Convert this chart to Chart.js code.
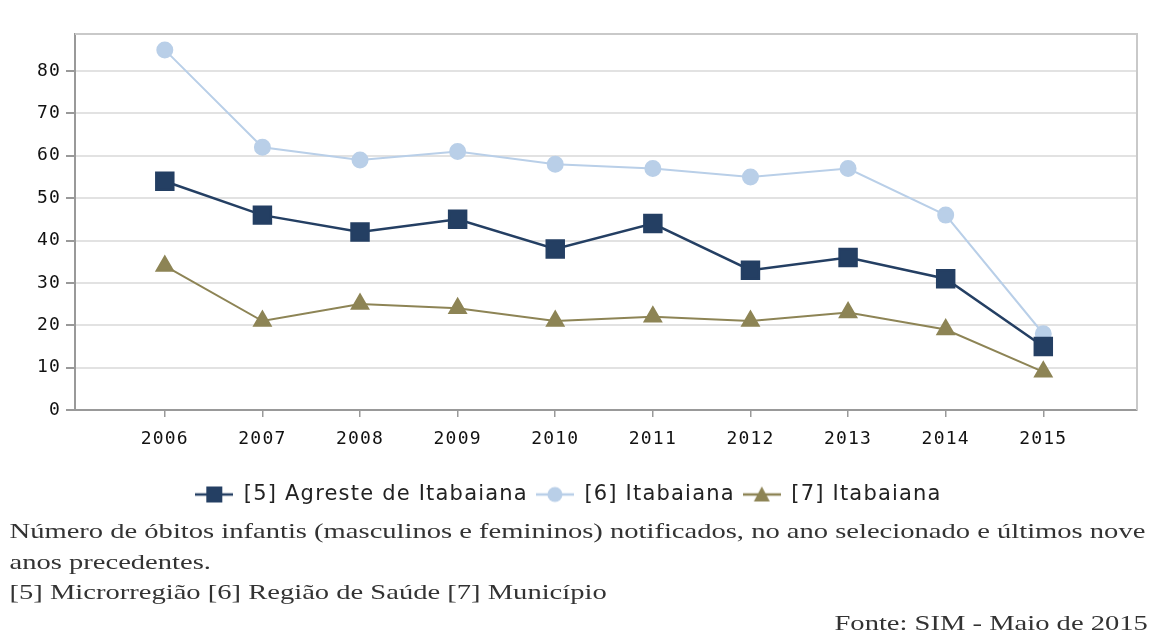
<!DOCTYPE html>
<html>
<head>
<meta charset="utf-8">
<script src="https://cdn.jsdelivr.net/npm/chart.js@4/dist/chart.umd.min.js"></script>
<style>
  body { margin: 0; background: #fff; width: 1157px; height: 632px; overflow: hidden; }
  #wrap { position: relative; width: 1157px; height: 519px; }
  .rodape { width: 848px; margin-top: -3px; transform: scaleX(1.36); transform-origin: 0 0; font-family: "Liberation Serif", serif; font-size: 21px; color: #333; line-height: 30.5px; white-space: nowrap; }
  .nota { margin: 0 0 0 7px; }
  .fonte { text-align: right; margin-right: 4px; }
</style>
</head>
<body>
<div id="wrap"><canvas id="grafico"></canvas></div>
<div class="rodape">
  <div class="nota">Número de óbitos infantis (masculinos e femininos) notificados, no ano selecionado e últimos nove<br>anos precedentes.<br>[5] Microrregião [6] Região de Saúde [7] Município</div>
  <div class="fonte">Fonte: SIM - Maio de 2015</div>
</div>
<script>
const anos = [2006, 2007, 2008, 2009, 2010, 2011, 2012, 2013, 2014, 2015];
const microrregiao = [54, 46, 42, 45, 38, 44, 33, 36, 31, 15];
const regiaoSaude = [85, 62, 59, 61, 58, 57, 55, 57, 46, 18];
const municipio = [34, 21, 25, 24, 21, 22, 21, 23, 19, 9];
const yTicks = [0, 10, 20, 30, 40, 50, 60, 70, 80];

const azulEscuro = '#243f63';
const azulClaro = '#b9cfe8';
const oliva = '#8d8455';

// icone da legenda: linha + marcador
function icone(cor, estilo) {
  const c = document.createElement('canvas');
  c.width = 38; c.height = 18;
  const g = c.getContext('2d');
  g.strokeStyle = cor; g.fillStyle = cor; g.lineWidth = 2.5;
  g.beginPath(); g.moveTo(0, 9); g.lineTo(38, 9); g.stroke();
  g.beginPath();
  if (estilo === 'rect') g.rect(11, 1, 16, 16);
  else if (estilo === 'circle') g.arc(19, 9, 7.5, 0, Math.PI * 2);
  else { g.moveTo(19, 1); g.lineTo(27, 16); g.lineTo(11, 16); g.closePath(); }
  g.fill();
  return c;
}

// texto um pouco mais largo, como no original
const espacamento = {
  id: 'espacamento',
  beforeUpdate(chart) { chart.ctx.letterSpacing = '1.2px'; },
  beforeDraw(chart) { chart.ctx.letterSpacing = '1.2px'; }
};

const moldura = {
  id: 'moldura',
  beforeDatasetsDraw(chart) {
    const a = chart.chartArea, ctx = chart.ctx;
    ctx.save();
    ctx.strokeStyle = '#c9c9c9';
    ctx.lineWidth = 2;
    ctx.beginPath();
    ctx.moveTo(a.left, a.top); ctx.lineTo(a.right, a.top); ctx.lineTo(a.right, a.bottom);
    ctx.stroke();
    ctx.restore();
  }
};

const ctx = document.getElementById('grafico').getContext('2d');
new Chart(ctx, {
  type: 'line',
  data: {
    datasets: [
      { label: '[5] Agreste de Itabaiana', data: anos.map((a, i) => ({x: a, y: microrregiao[i]})),
        borderColor: azulEscuro, backgroundColor: azulEscuro, borderWidth: 2.5,
        pointStyle: 'rect', pointRadius: 12, pointHoverRadius: 12, legendIcon: icone(azulEscuro, 'rect') },
      { label: '[6] Itabaiana', data: anos.map((a, i) => ({x: a, y: regiaoSaude[i]})),
        borderColor: azulClaro, backgroundColor: azulClaro, borderWidth: 2,
        pointStyle: 'circle', pointRadius: 7.5, pointHoverRadius: 7.5, legendIcon: icone(azulClaro, 'circle') },
      { label: '[7] Itabaiana', data: anos.map((a, i) => ({x: a, y: municipio[i]})),
        borderColor: oliva, backgroundColor: oliva, borderWidth: 2,
        pointStyle: 'triangle', pointRadius: 9.5, pointHoverRadius: 9.5, legendIcon: icone(oliva, 'triangle') }
    ]
  },
  options: {
    responsive: true,
    maintainAspectRatio: false,
    animation: false,
    layout: { padding: { top: 34, right: 20, left: 0, bottom: 4 } },
    plugins: {
      tooltip: { enabled: false },
      legend: {
        position: 'bottom',
        labels: {
          usePointStyle: true,
          pointStyleWidth: 38,
          boxHeight: 18,
          padding: 8,
          color: '#222',
          font: { family: 'DejaVu Sans', size: 21 },
          generateLabels(chart) {
            return chart.data.datasets.map((d, i) => ({
              text: d.label, pointStyle: d.legendIcon, datasetIndex: i,
              fillStyle: d.borderColor, strokeStyle: d.borderColor, lineWidth: 0, fontColor: '#222'
            }));
          }
        }
      }
    },
    scales: {
      x: {
        type: 'linear',
        min: 2005.08,
        max: 2015.96,
        afterBuildTicks: s => { s.ticks = anos.map(v => ({ value: v })); },
        afterFit: s => { s.height = 66; },
        ticks: { callback: v => String(v), color: '#111', font: { family: 'DejaVu Sans Mono', size: 18 }, padding: 12, maxRotation: 0 },
        grid: { display: true, drawOnChartArea: false, tickLength: 7, tickColor: '#999', lineWidth: 1.5 },
        border: { color: '#999', width: 2 }
      },
      y: {
        min: 0,
        max: 88.75,
        afterBuildTicks: s => { s.ticks = yTicks.map(v => ({ value: v })); },
        afterFit: s => { s.width = 75; },
        ticks: { color: '#111', font: { family: 'DejaVu Sans Mono', size: 18 }, padding: 5 },
        grid: { color: '#e2e2e2', lineWidth: 2, tickLength: 9, tickColor: '#999' },
        border: { color: '#999', width: 2 }
      }
    }
  },
  plugins: [espacamento, moldura]
});
</script>
</body>
</html>
